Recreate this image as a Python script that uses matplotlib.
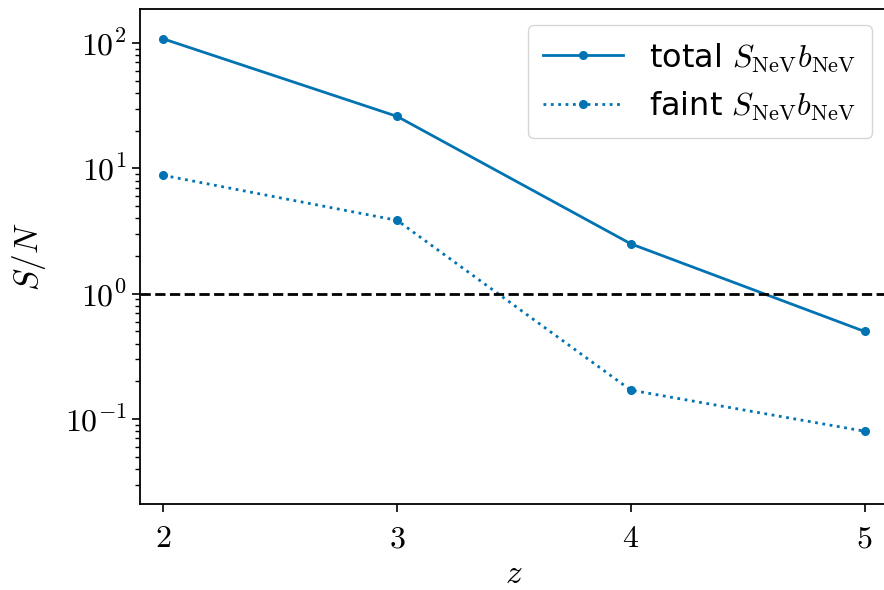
import matplotlib
matplotlib.use("Agg")
import matplotlib.pyplot as plt
from matplotlib.ticker import FuncFormatter, NullFormatter
import numpy as np

plt.rcParams['mathtext.fontset'] = 'cm'
plt.rcParams['font.family'] = 'DejaVu Sans'

z = [2, 3, 4, 5]
sn_total = [108, 26, 2.5, 0.5]
sn_faint = [8.8, 3.85, 0.17, 0.08]

color = '#0173B2'

fig = plt.figure(figsize=(8.84, 5.90), dpi=100)
ax = fig.add_axes([140/884, 86/590, 748/884, 495/590])

ax.plot(z, sn_total, '-o', color=color, lw=2, ms=5.5,
        label=r'total $S_{\rm NeV}b_{\rm NeV}$')
ax.plot(z, sn_faint, ':o', color=color, lw=2, ms=5.5,
        label=r'faint $S_{\rm NeV}b_{\rm NeV}$')
ax.axhline(1, color='black', ls='--', lw=2)

ax.set_yscale('log')
ax.set_ylim(0.021, 187)
ax.set_xlim(1.9, 5.1)
ax.set_xticks(z)
ax.set_xticklabels([rf'${v}$' for v in z])
ax.yaxis.set_major_formatter(FuncFormatter(lambda v, p: rf'$10^{{{int(round(np.log10(v)))}}}$'))
ax.yaxis.set_minor_formatter(NullFormatter())

ax.tick_params(labelsize=23, width=1.2, length=6)
ax.tick_params(which='minor', width=1, length=3.5)
ax.tick_params(axis='x', pad=8)
for s in ax.spines.values():
    s.set_linewidth(1.3)

ax.set_xlabel(r'$z$', fontsize=24, labelpad=2)
ax.set_ylabel(r'$S/N$', fontsize=24, labelpad=12)
ax.legend(fontsize=23, loc='upper right', handlelength=2.5, borderpad=0.5,
          labelspacing=0.5, framealpha=0.8)

fig.savefig('out.png', dpi=100)
